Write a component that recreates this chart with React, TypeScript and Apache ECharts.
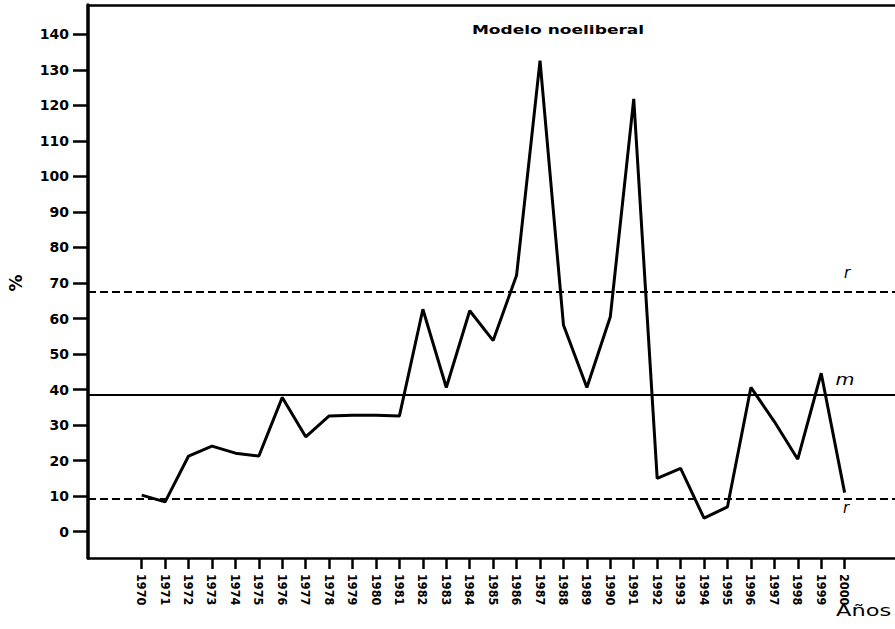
import React, { useEffect, useRef } from "react";
import * as echarts from "echarts";

const years: number[] = [
  1970, 1971, 1972, 1973, 1974, 1975, 1976, 1977, 1978, 1979, 1980,
  1981, 1982, 1983, 1984, 1985, 1986, 1987, 1988, 1989, 1990,
  1991, 1992, 1993, 1994, 1995, 1996, 1997, 1998, 1999, 2000,
];
const values: number[] = [
  10.3, 8.4, 21.3, 24.1, 22.1, 21.3, 37.8, 26.7, 32.6, 32.8, 32.8,
  32.6, 62.6, 40.6, 62.2, 53.8, 72.2, 132.6, 58.2, 40.6, 60.5,
  121.8, 15.0, 17.8, 3.8, 7.0, 40.6, 31.0, 20.4, 44.6, 11.0,
];
const yTicks: number[] = [0, 10, 20, 30, 40, 50, 60, 70, 80, 90, 100, 110, 120, 130, 140];
const meanValue = 38.5;
const upperLimit = 67.6;
const lowerLimit = 9.3;
const titleText = "Modelo noeliberal";
const xName = "Años";
const yName = "%";

export default function App() {
  const ref = useRef<HTMLDivElement>(null);
  useEffect(() => {
    document.body.style.margin = "0";
    const chart = echarts.init(ref.current!, undefined, { renderer: "svg" });
    const data = years.map((y, i) => [y, values[i]]);
    const xMin = 1967.708;
    const xMax = 2002.15;
    chart.setOption({
      animation: false,
      backgroundColor: "#ffffff",
      grid: {
        left: 88,
        top: 5,
        right: 0,
        bottom: 71,
        show: false,
        containLabel: false,
      },
      xAxis: [
        {
          type: "value",
          position: "bottom",
          min: xMin,
          max: xMax,
          axisLine: { show: true, onZero: false, lineStyle: { color: "#000", width: 2.5 } },
          axisTick: {
            show: true,
            customValues: years,
            length: 11,
            lineStyle: { color: "#000", width: 2.5 },
          },
          axisLabel: {
            customValues: years,
            rotate: -90,
            margin: 16,
            color: "#000",
            fontFamily: "'DejaVu Sans Condensed', sans-serif",
            fontWeight: "bold",
            fontSize: 12.5,
            formatter: (v: number) => String(Math.round(v)),
          },
          splitLine: { show: false },
        },
        {
          type: "value",
          position: "top",
          min: xMin,
          max: xMax,
          axisLine: { show: true, onZero: false, lineStyle: { color: "#000", width: 2.5 } },
          axisTick: { show: false },
          axisLabel: { show: false },
          splitLine: { show: false },
        },
      ],
      yAxis: {
        type: "value",
        min: -7.4,
        max: 148.24,
        axisLine: { show: true, onZero: false, lineStyle: { color: "#000", width: 3.5 } },
        axisTick: {
          show: true,
          customValues: yTicks,
          length: 15,
          lineStyle: { color: "#000", width: 2.5 },
        },
        axisLabel: {
          customValues: yTicks,
          margin: 19,
          color: "#000",
          fontFamily: "'DejaVu Sans', sans-serif",
          fontWeight: "bold",
          fontSize: 14,
        },
        splitLine: { show: false },
      },
      graphic: [
        {
          type: "text",
          x: 558,
          y: 30,
          scaleX: 1.42,
          style: {
            text: titleText,
            font: "bold 12px 'DejaVu Sans', sans-serif",
            fill: "#000",
            textAlign: "center",
            textVerticalAlign: "middle",
            align: "center",
            verticalAlign: "middle",
          },
        },
        {
          type: "text",
          x: 836,
          y: 611,
          scaleX: 1.5,
          style: {
            text: xName,
            font: "15px 'DejaVu Sans', sans-serif",
            fill: "#000",
            textAlign: "left",
            textVerticalAlign: "middle",
            align: "left",
            verticalAlign: "middle",
          },
        },
        {
          type: "text",
          x: 16,
          y: 283,
          rotation: Math.PI / 2,
          style: {
            text: yName,
            font: "bold 17px 'DejaVu Sans', sans-serif",
            fill: "#000",
            textAlign: "center",
            textVerticalAlign: "middle",
            align: "center",
            verticalAlign: "middle",
          },
        },
        {
          type: "text",
          x: 847,
          y: 273,
          style: {
            text: "r",
            font: "italic 15px 'DejaVu Sans', sans-serif",
            fill: "#000",
            textAlign: "center",
            textVerticalAlign: "middle",
            align: "center",
            verticalAlign: "middle",
          },
        },
        {
          type: "text",
          x: 845,
          y: 380,
          scaleX: 1.3,
          style: {
            text: "m",
            font: "italic 15px 'DejaVu Sans', sans-serif",
            fill: "#000",
            textAlign: "center",
            textVerticalAlign: "middle",
            align: "center",
            verticalAlign: "middle",
          },
        },
        {
          type: "text",
          x: 846,
          y: 508,
          style: {
            text: "r",
            font: "italic 15px 'DejaVu Sans', sans-serif",
            fill: "#000",
            textAlign: "center",
            textVerticalAlign: "middle",
            align: "center",
            verticalAlign: "middle",
          },
        },
      ],
      series: [
        {
          type: "line",
          data,
          symbol: "none",
          lineStyle: { color: "#000", width: 3 },
          z: 3,
          markLine: {
            silent: true,
            symbol: "none",
            label: { show: false },
            data: [
              { yAxis: upperLimit, lineStyle: { color: "#000", width: 2, type: [8, 4] } },
              { yAxis: meanValue, lineStyle: { color: "#000", width: 2, type: "solid" } },
              { yAxis: lowerLimit, lineStyle: { color: "#000", width: 2, type: [8, 4] } },
            ],
          },
        },
      ],
    });
    return () => chart.dispose();
  }, []);
  return <div ref={ref} style={{ width: 895, height: 629 }} />;
}
